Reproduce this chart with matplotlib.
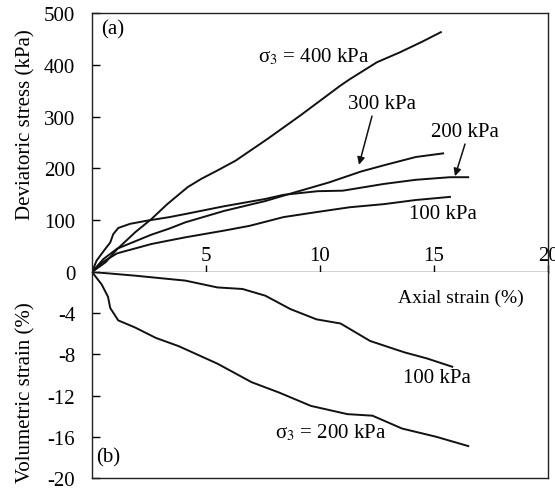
"""
Triaxial test curves: deviatoric stress and volumetric strain vs axial strain
"""
import matplotlib
matplotlib.use("Agg")
import matplotlib.pyplot as plt

plt.rcParams['font.family'] = ['Liberation Serif', 'DejaVu Serif']
plt.rcParams['mathtext.fontset'] = 'stix'
plt.rcParams['axes.unicode_minus'] = False

# (a) deviatoric stress (kPa) vs axial strain (%)
s400_x = [0, 0.6, 1.1, 1.9, 2.6, 3.3, 4.2, 4.8, 5.5, 6.3, 7.7, 9.1, 10.9, 11.3, 12.5, 13.5, 14.5, 15.3]
s400_y = [0, 19, 44, 77, 102, 131, 164, 180, 196, 215, 257, 301, 360, 372, 405, 424, 445, 463]

s300_x = [0, 0.5, 1.1, 2.6, 3.4, 4.1, 5.8, 7.6, 8.6, 10.4, 11.8, 12.8, 14.2, 15.4]
s300_y = [0, 25, 45, 72, 84, 96, 118, 137, 150, 173, 194, 206, 222, 229]

s200_x = [0, 0.2, 0.57, 0.8, 0.93, 1.15, 1.67, 2.4, 3.4, 4.1, 5.8, 7.6, 8.4, 9.9, 11.0, 12.8, 14.2, 15.7, 16.5]
s200_y = [0, 22, 44, 57, 73, 85, 93, 99, 106, 112, 127, 141, 149, 156, 157, 170, 178, 183, 183]

s100_x = [0, 0.5, 1.1, 2.6, 3.4, 4.1, 5.8, 6.9, 8.4, 9.9, 11.3, 12.8, 14.2, 15.7]
s100_y = [0, 20, 36, 54, 61, 67, 80, 89, 106, 116, 125, 131, 139, 145]

# (b) volumetric strain (%) vs axial strain (%)
v100_x = [0, 1.9, 4.1, 5.5, 6.6, 7.6, 8.7, 9.85, 10.9, 12.2, 13.7, 14.7, 15.8]
v100_y = [0, -0.36, -0.84, -1.5, -1.65, -2.3, -3.6, -4.6, -5.0, -6.7, -7.8, -8.4, -9.2]

v200_x = [0, 0.42, 0.7, 0.8, 1.15, 1.9, 2.8, 3.8, 5.5, 7.0, 8.2, 9.6, 11.2, 12.3, 13.6, 15.1, 16.5]
v200_y = [0, -1.2, -2.4, -3.5, -4.7, -5.4, -6.4, -7.2, -8.9, -10.7, -11.7, -13.0, -13.8, -13.95, -15.2, -16.0, -16.9]

x_ticks = [5, 10, 15, 20]
top_ticks = [0, 100, 200, 300, 400, 500]
bot_ticks = [0, -4, -8, -12, -16, -20]

FS = 15

fig = plt.figure(figsize=(5.55, 4.89), dpi=100)
ax_a = fig.add_axes([0.1658, 0.4417, 0.8216, 0.5297])
ax_b = fig.add_axes([0.1658, 0.02045, 0.8216, 0.4213])

for ax in (ax_a, ax_b):
    ax.set_xlim(0, 20)
    for sp in ax.spines.values():
        sp.set_linewidth(1.0)
        sp.set_color('#222222')

# top panel
for xs, ys in [(s400_x, s400_y), (s300_x, s300_y), (s200_x, s200_y), (s100_x, s100_y)]:
    ax_a.plot(xs, ys, color='#111111', lw=1.4)
ax_a.set_ylim(0, 500)
ax_a.set_yticks(top_ticks, [''] + [str(t) for t in top_ticks[1:]])
ax_a.set_xticks(x_ticks, [str(t) for t in x_ticks])
ax_a.tick_params(axis='y', direction='in', length=6, width=1, labelsize=FS, pad=12)
ax_a.tick_params(axis='x', direction='in', length=5, width=1, labelsize=FS, pad=-19)

ax_a.text(0.92, 469, '(a)', fontsize=FS, ha='center', va='center')
ax_a.text(7.28, 417, 'σ$_3$ = 400 kPa', fontsize=FS, ha='left', va='center')
ax_a.text(12.72, 326, '300 kPa', fontsize=FS, ha='center', va='center')
ax_a.text(16.36, 272, '200 kPa', fontsize=FS, ha='center', va='center')
ax_a.text(15.39, 112, '100 kPa', fontsize=FS, ha='center', va='center')
arrow = dict(arrowstyle='-|>', lw=1.1, color='#111111', mutation_scale=11, shrinkA=0, shrinkB=0)
ax_a.annotate('', xy=(11.71, 207), xytext=(12.28, 301), arrowprops=arrow)
ax_a.annotate('', xy=(15.92, 185), xytext=(16.36, 247), arrowprops=arrow)

# bottom panel
for xs, ys in [(v100_x, v100_y), (v200_x, v200_y)]:
    ax_b.plot(xs, ys, color='#111111', lw=1.4)
ax_b.set_ylim(-20, 0)
ax_b.set_yticks(bot_ticks, [str(t) for t in bot_ticks])
ax_b.set_xticks([])
ax_b.spines['top'].set_visible(False)
ax_b.tick_params(axis='y', direction='in', length=6, width=1, labelsize=FS, pad=12)

ax_b.text(16.18, -2.43, 'Axial strain (%)', fontsize=14, ha='center', va='center')
ax_b.text(15.13, -10.2, '100 kPa', fontsize=FS, ha='center', va='center')
ax_b.text(8.03, -15.5, 'σ$_3$ = 200 kPa', fontsize=FS, ha='left', va='center')
ax_b.text(0.7, -17.96, '(b)', fontsize=FS, ha='center', va='center')

fig.text(26 / 555, 1 - 220 / 489, 'Deviatoric stress (kPa)', fontsize=FS,
         rotation=90, ha='center', va='bottom')
fig.text(26 / 555, 1 - 483 / 489, 'Volumetric strain (%)', fontsize=FS,
         rotation=90, ha='center', va='bottom')

fig.savefig('out.png', dpi=100)
plt.close(fig)
